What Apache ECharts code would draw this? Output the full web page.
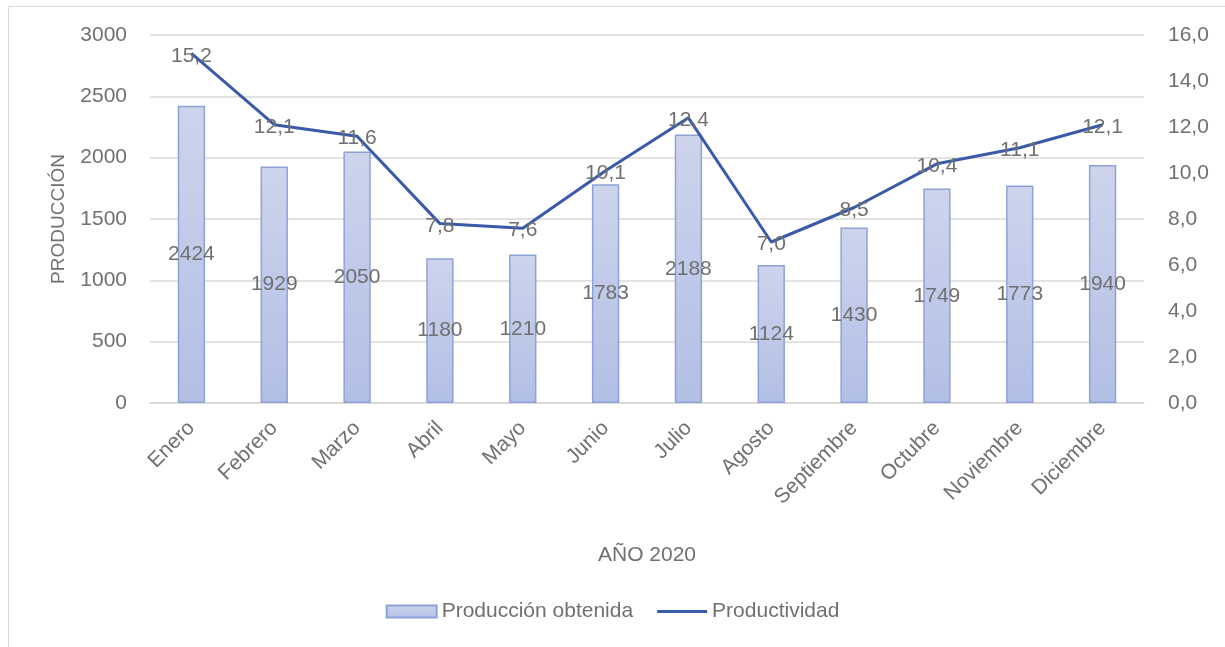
<!DOCTYPE html>
<html>
<head>
<meta charset="utf-8">
<script src="https://cdn.jsdelivr.net/npm/echarts@6/dist/echarts.min.js"></script>
<style>html,body{margin:0;padding:0;background:#fff}#c{width:1225px;height:647px}</style>
</head>
<body>
<div id="c"></div>
<script>
const categories = ['Enero','Febrero','Marzo','Abril','Mayo','Junio','Julio','Agosto','Septiembre','Octubre','Noviembre','Diciembre'];
const produccion = [2424,1929,2050,1180,1210,1783,2188,1124,1430,1749,1773,1940];
const productividad = [15.2,12.1,11.6,7.8,7.6,10.1,12.4,7.0,8.5,10.4,11.1,12.1];

const FONT = '"Liberation Sans", "Open Sans", sans-serif';
const GREY = '#707070';
const LINE = '#3A5BA7';
const comma = v => Number(v).toFixed(1).replace('.', ',');

const chart = echarts.init(document.getElementById('c'), null, {renderer: 'canvas'});
chart.setOption({
  animation: false,
  backgroundColor: '#fff',
  textStyle: {fontFamily: FONT},
  graphic: [{
    type: 'rect', silent: true, z: -1,
    shape: {x: 8.5, y: 6.5, width: 1400, height: 800},
    style: {fill: 'none', stroke: '#d9d9d9', lineWidth: 1}
  }],
  grid: {left: 150, right: 81, top: 35, bottom: 244},
  legend: {
    bottom: 20, left: 'center', itemGap: 24, itemWidth: 50, itemHeight: 12,
    textStyle: {color: GREY, fontSize: 21, fontFamily: FONT},
    data: [
      {name: 'Producción obtenida', icon: 'rect'},
      {name: 'Productividad', icon: 'path://M0,0 L100,0 L100,6 L0,6 Z', itemStyle: {color: LINE}}
    ]
  },
  xAxis: {
    type: 'category', data: categories,
    name: 'AÑO 2020', nameLocation: 'middle', nameGap: 142,
    nameTextStyle: {color: GREY, fontSize: 21, fontFamily: FONT},
    axisLine: {lineStyle: {color: '#d9d9d9', width: 1.5}},
    axisTick: {show: false},
    axisLabel: {rotate: 45, color: GREY, fontSize: 21, margin: 22, interval: 0, fontFamily: FONT}
  },
  yAxis: [{
    type: 'value', min: 0, max: 3000, interval: 500,
    name: 'PRODUCCIÓN', nameLocation: 'middle', nameGap: 82,
    nameTextStyle: {color: GREY, fontSize: 19, fontFamily: FONT},
    axisLine: {show: false}, axisTick: {show: false},
    axisLabel: {color: GREY, fontSize: 21, margin: 23, fontFamily: FONT, formatter: v => String(v)},
    splitLine: {lineStyle: {color: '#d9d9d9', width: 1.5}}
  }, {
    type: 'value', min: 0, max: 16, interval: 2,
    axisLine: {show: false}, axisTick: {show: false},
    axisLabel: {color: GREY, fontSize: 21, margin: 24, fontFamily: FONT, formatter: comma},
    splitLine: {show: false}
  }],
  series: [{
    name: 'Producción obtenida', type: 'bar', data: produccion,
    barWidth: '33%',
    itemStyle: {
      color: new echarts.graphic.LinearGradient(0, 0, 0, 1, [
        {offset: 0, color: '#CDD4EC'}, {offset: 1, color: '#B2BFE5'}
      ]),
      borderColor: '#8EA2D8', borderWidth: 1.5
    },
    label: {show: true, position: 'inside', color: GREY, fontSize: 21, fontFamily: FONT}
  }, {
    name: 'Productividad', type: 'line', yAxisIndex: 1, data: productividad,
    symbol: 'none',
    lineStyle: {color: LINE, width: 3},
    itemStyle: {color: LINE},
    z: 3
  }, {
    name: 'ProductividadEtiquetas', type: 'line', yAxisIndex: 1, data: productividad,
    symbol: 'circle', symbolSize: 0.01, showSymbol: true,
    lineStyle: {opacity: 0, width: 0},
    itemStyle: {color: LINE, opacity: 0},
    z: 4,
    label: {show: true, position: 'top', distance: 0, offset: [0, 13], color: GREY, fontSize: 21, fontFamily: FONT, opacity: 1, formatter: p => comma(p.value)}
  }]
});
</script>
</body>
</html>
